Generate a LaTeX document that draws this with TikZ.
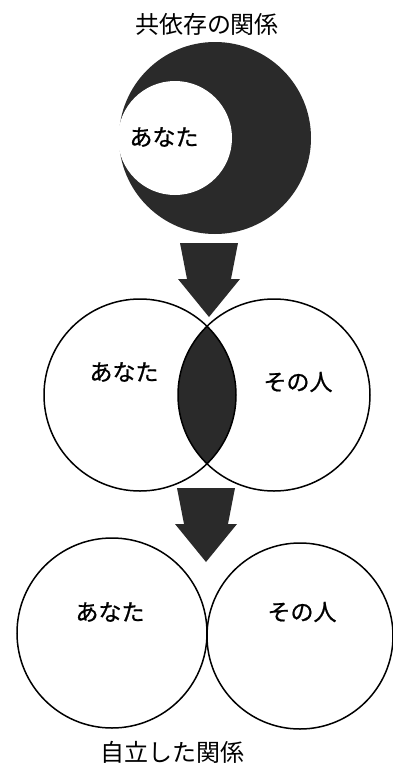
\documentclass[tikz,border=0pt]{standalone}
\usepackage{fontspec}
\newfontfamily\jp{Noto Sans CJK JP}
\newfontfamily\jpm{Noto Sans CJK JP}[FakeBold=0.8]
\usetikzlibrary{positioning}
\definecolor{ink}{HTML}{2A2A2A}

\begin{document}
\begin{tikzpicture}[
        x=1pt, y=-1pt,
        ring/.style={draw, circle, line width=1.5pt, inner sep=0pt},
        label/.style={font=\jpm\fontsize{23}{23}\selectfont, inner sep=0pt},
        heading/.style={font=\jp\fontsize{24}{24}\selectfont, inner sep=0pt},
        blockarrow/.pic={\fill[ink] (-29,0) -- (29,0) -- (22,36) -- (31,36)
            -- (0,74) -- (-31,36) -- (-22,36) -- cycle;}
    ]
        \useasboundingbox (0,0) rectangle (392,764);

        % co-dependency
        \node[heading] (title) at (207,24) {共依存の関係};
        \node[circle, fill=ink, minimum size=192pt, inner sep=0pt] (whole) at (215,138) {};
        \node[circle, fill=white, minimum size=114pt, inner sep=0pt] (you1) at (175,138) {};
        \node[label] at (164,137) {あなた};

        \pic at (209,243) {blockarrow};

        % overlap
        \begin{scope}
            \clip (140,395) circle (96);
            \fill[ink] (274,395) circle (96);
        \end{scope}
        \node[ring, minimum size=192pt] (you2) at (140,395) {};
        \node[ring, minimum size=192pt] (other2) at (274,395) {};
        \node[label] at (124,372) {あなた};
        \node[label] at (298,382) {その人};

        \pic at (206,488) {blockarrow};

        % independence
        \node[ring, minimum size=190pt] (you3) at (112,633) {};
        \node[ring, minimum size=186pt] (other3) at (300,636) {};
        \node[label] at (110,612) {あなた};
        \node[label] at (302,612) {その人};
        \node[heading] (caption) at (172,752) {自立した関係};
    \end{tikzpicture}
\end{document}
